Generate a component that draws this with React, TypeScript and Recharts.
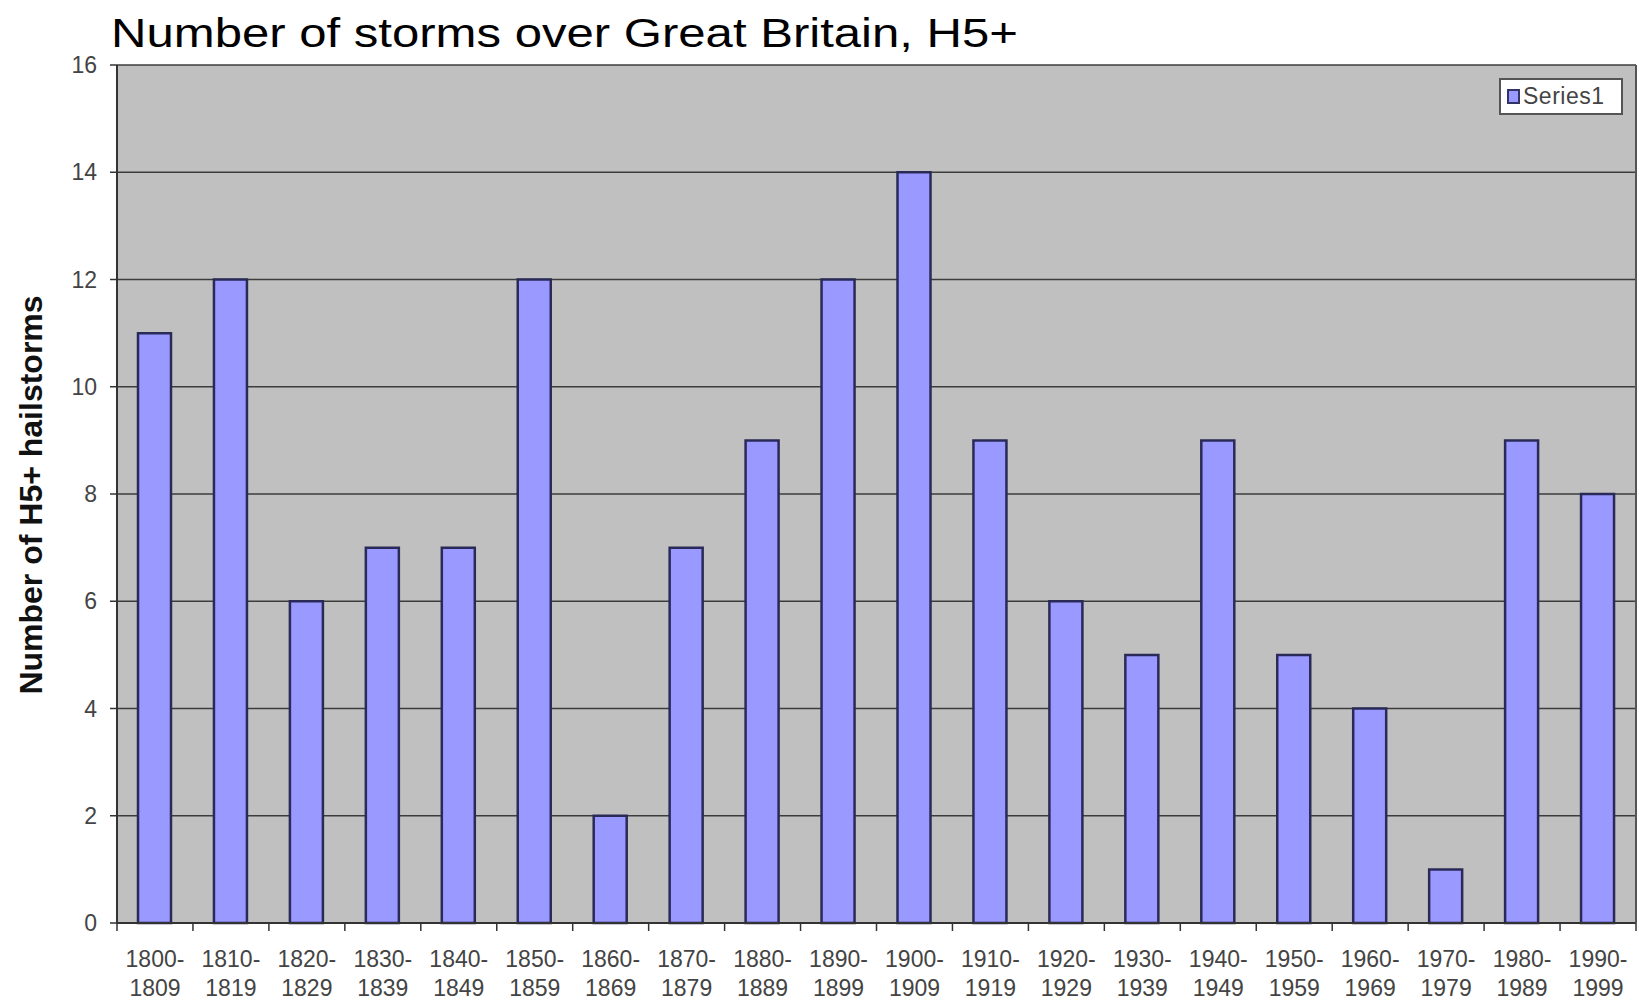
import { BarChart, Bar, XAxis, YAxis, CartesianGrid, Legend } from "recharts";

const FONT = '"Liberation Sans", Arial, Helvetica, sans-serif';

const DECADES = [
  "1800-1809", "1810-1819", "1820-1829", "1830-1839", "1840-1849",
  "1850-1859", "1860-1869", "1870-1879", "1880-1889", "1890-1899",
  "1900-1909", "1910-1919", "1920-1929", "1930-1939", "1940-1949",
  "1950-1959", "1960-1969", "1970-1979", "1980-1989", "1990-1999",
];

const STORMS = [11, 12, 6, 7, 7, 12, 2, 7, 9, 12, 14, 9, 6, 5, 9, 5, 4, 1, 9, 8];

const Y_TICKS = [0, 2, 4, 6, 8, 10, 12, 14, 16];

const data = DECADES.map((decade, i) => ({ decade, Series1: STORMS[i] }));

const W = 1639;
const H = 1003;
const MARGIN = { top: 65, right: 2, bottom: 0, left: 0 };
const Y_AXIS_W = 117;
const FRAME_W = 1;
// width of one decade column, so the axis ticks can sit between the columns
const BAND = (W - MARGIN.left - MARGIN.right - Y_AXIS_W - FRAME_W) / DECADES.length;

const DecadeTick = (props: any) => {
  const { x, y, payload, index } = props;
  const [from, to] = String(payload.value).split("-");
  const axisY = y - 8;
  return (
    <g>
      <line x1={x - BAND / 2} x2={x - BAND / 2} y1={axisY} y2={axisY + 8} stroke="#333" strokeWidth={1.5} />
      {index === DECADES.length - 1 && (
        <line x1={x + BAND / 2} x2={x + BAND / 2} y1={axisY} y2={axisY + 8} stroke="#333" strokeWidth={1.5} />
      )}
      <text x={x} y={y + 36} textAnchor="middle" fontSize={23} fill="#444" fontFamily={FONT}>
        {from + "-"}
      </text>
      <text x={x} y={y + 65} textAnchor="middle" fontSize={23} fill="#444" fontFamily={FONT}>
        {to}
      </text>
    </g>
  );
};

const YTitle = (props: any) => {
  const { viewBox } = props;
  const cx = viewBox.x + 42;
  const cy = viewBox.y + viewBox.height / 2 + 1;
  return (
    <text
      x={cx}
      y={cy}
      transform={`rotate(-90, ${cx}, ${cy})`}
      textAnchor="middle"
      fontSize={32}
      fontWeight="bold"
      fill="#111"
      fontFamily={FONT}
    >
      Number of H5+ hailstorms
    </text>
  );
};

const LegendBox = () => (
  <div
    style={{
      boxSizing: "border-box",
      width: 124,
      height: 37,
      background: "#fff",
      border: "2px solid #555",
      display: "flex",
      alignItems: "center",
      paddingLeft: 6,
      fontFamily: FONT,
    }}
  >
    <span
      style={{
        display: "inline-block",
        boxSizing: "border-box",
        width: 13,
        height: 15,
        background: "#9999FF",
        border: "2px solid #333366",
        marginRight: 3,
      }}
    />
    <span style={{ fontSize: 23, color: "#444", letterSpacing: 0.5 }}>Series1</span>
  </div>
);

export default function App() {
  return (
    <div style={{ position: "absolute", left: 0, top: 0, width: W, height: H, background: "#fff" }}>
      <svg width={W} height={60} style={{ position: "absolute", left: 0, top: 0 }}>
        <text
          x={111}
          y={47}
          fontSize={41}
          fill="#000"
          fontFamily={FONT}
          textLength={907}
          lengthAdjust="spacingAndGlyphs"
        >
          Number of storms over Great Britain, H5+
        </text>
      </svg>
      <BarChart
        width={W}
        height={H}
        data={data}
        margin={MARGIN}
        style={{ position: "absolute", left: 0, top: 0 }}
      >
        <CartesianGrid
          vertical={false}
          fill="#C0C0C0"
          fillOpacity={1}
          stroke="#3c3c3c"
          strokeWidth={1.5}
          horizontalValues={Y_TICKS}
        />
        <XAxis
          dataKey="decade"
          tick={<DecadeTick />}
          tickLine={false}
          tickSize={6}
          tickMargin={2}
          axisLine={{ stroke: "#333", strokeWidth: 2 }}
          interval={0}
          height={80}
        />
        <YAxis
          domain={[0, 16]}
          ticks={Y_TICKS}
          width={Y_AXIS_W}
          tick={{ fontSize: 23, fill: "#444", fontFamily: FONT }}
          tickLine={{ stroke: "#333", strokeWidth: 1.5 }}
          tickSize={7}
          tickMargin={13}
          axisLine={{ stroke: "#333", strokeWidth: 2 }}
          interval={0}
          label={<YTitle />}
        />
        <YAxis
          yAxisId="frame"
          orientation="right"
          width={FRAME_W}
          tick={false}
          tickLine={false}
          axisLine={{ stroke: "#555", strokeWidth: 2 }}
        />
        <Legend
          content={<LegendBox />}
          layout="horizontal"
          verticalAlign="middle"
          align="center"
          wrapperStyle={{ position: "absolute", left: 1499, top: 78, width: 124, height: 37 }}
        />
        <Bar
          dataKey="Series1"
          fill="#9999FF"
          stroke="#2a2a58"
          strokeWidth={2.5}
          barSize={33}
          isAnimationActive={false}
        />
      </BarChart>
    </div>
  );
}
